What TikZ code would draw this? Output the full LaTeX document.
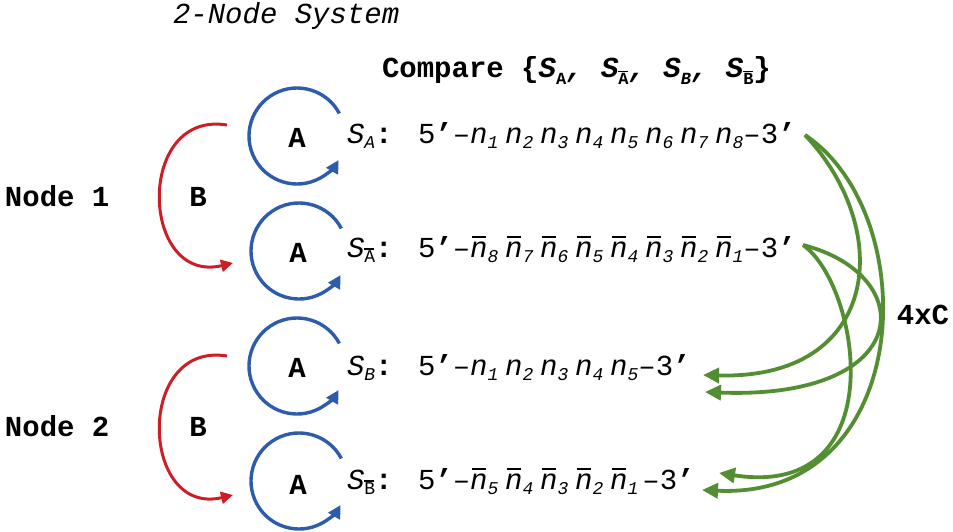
\documentclass[tikz,border=0pt]{standalone}
\usepackage{fontspec}
\setmainfont{Liberation Mono}
\usetikzlibrary{arrows.meta}
\definecolor{cblue}{RGB}{44,92,170}
\definecolor{cred}{RGB}{205,30,40}
\definecolor{cgreen}{RGB}{84,142,50}
\newcommand\subx[1]{\raisebox{-5pt}{\fontsize{18}{18}\selectfont #1}}
\newcommand\subc[1]{\raisebox{-7pt}{\fontsize{17}{17}\selectfont #1}}
\newcommand\barA[1]{\rlap{\rule[12.5pt]{9.5pt}{1.2pt}}#1}
\newcommand\nn[1]{\textit{n}\subx{\textit{#1}}}
\newcommand\barn[1]{\rlap{\hspace{1.5pt}\rule[19pt]{14pt}{1.6pt}}\textit{n}\subx{\textit{#1}}}
\newcommand\gp{\hspace{6.8pt}}
\newcommand\pr{{\bfseries '}}
\tikzset{
  txt/.style={inner sep=0pt, outer sep=0pt, font=\fontsize{29}{29}\selectfont},
  btxt/.style={txt, font=\fontsize{29}{29}\selectfont\bfseries},
  loopA/.style={draw=cblue, line width=3.4pt, -{Triangle[length=13pt,width=13pt]}},
  loopB/.style={draw=cred, line width=3pt, -{Triangle[length=12pt,width=12pt]}},
  garrow/.style={draw=cgreen, line width=3.8pt, -{Triangle[length=16pt,width=15pt]}}
}
\begin{document}
\begin{tikzpicture}[x=1pt,y=-1pt]
\useasboundingbox (0,0) rectangle (953,532);
% titles
\node[txt, anchor=base west] (title) at (173,24) {\textit{2-Node System}};
\node[btxt, anchor=base west] (cmp) at (382,78) {Compare \{\textit{S}\subc{A}\textit{,} \textit{S}\subc{\barA{A}}\textit{,} \textit{S}\subc{\textit{B}}\textit{,} \textit{S}\subc{\barA{B}}\}};
% node labels
\node[btxt, anchor=base west] (node1) at (5,206) {Node 1};
\node[btxt, anchor=base west] (node2) at (5,436) {Node 2};
\node[btxt] (b1) at (198,197) {B};
\node[btxt] (b2) at (198,427) {B};
\node[btxt] (a1) at (297,138) {A};
\node[btxt] (a2) at (298,253) {A};
\node[btxt] (a3) at (297,368) {A};
\node[btxt] (a4) at (298,485) {A};
\node[btxt] (c4) at (923,315) {4xC};
% row labels
\node[txt, anchor=base west] (la) at (347,144) {\textit{S}\subx{\textit{A}}{\bfseries :}};
\node[txt, anchor=base west] (lab) at (347,257) {\textit{S}\subx{\barA{A}}{\bfseries :}};
\node[txt, anchor=base west] (lb) at (347,375) {\textit{S}\subx{\textit{B}}{\bfseries :}};
\node[txt, anchor=base west] (lbb) at (347,489) {\textit{S}\subx{\barA{B}}{\bfseries :}};
% sequences
\node[txt, anchor=base west] (sa) at (418,144) {5\pr–\nn1\gp\nn2\gp\nn3\gp\nn4\gp\nn5\gp\nn6\gp\nn7\gp\nn8–3\pr};
\node[txt, anchor=base west] (sab) at (418,257) {5\pr–\barn8\gp\barn7\gp\barn6\gp\barn5\gp\barn4\gp\barn3\gp\barn2\gp\barn1–3\pr};
\node[txt, anchor=base west] (sb) at (418,375) {5\pr–\nn1\gp\nn2\gp\nn3\gp\nn4\gp\nn5–3\pr};
\node[txt, anchor=base west] (sbb) at (418,489) {5\pr–\barn5\gp\barn4\gp\barn3\gp\barn2\gp\barn1\hspace{4pt}–3\pr};
% loop centres
\coordinate (o1) at (297,136);
\coordinate (o2) at (299,251);
\coordinate (o3) at (297,366);
\coordinate (o4) at (299,481);
\foreach \o in {o1,o2,o3,o4}
  \draw[loopA] (\o) ++(-28:48) arc[start angle=-28, end angle=-330, radius=48];
% B arrows
\coordinate (r1s) at (227,125);
\coordinate (r1e) at (233,263);
\coordinate (r2s) at (227,356);
\coordinate (r2e) at (233,495);
\draw[loopB] (r1s) .. controls (135,110) and (140,285) .. (r1e);
\draw[loopB] (r2s) .. controls (135,341) and (140,517) .. (r2e);
% green C arrows
\coordinate (g1) at (805,135);
\coordinate (g2) at (803,245);
\coordinate (e3a) at (703,375);
\coordinate (e3b) at (705,392);
\coordinate (e4a) at (719,473);
\coordinate (e4b) at (702,490);
\draw[garrow] (g1) .. controls (895,230) and (880,380) .. (e3a);
\draw[garrow] (g2) .. controls (920,275) and (915,400) .. (e3b);
\draw[garrow] (g1) .. controls (925,215) and (915,500) .. (e4b);
\draw[garrow] (g2) .. controls (860,285) and (895,500) .. (e4a);
\end{tikzpicture}
\end{document}
